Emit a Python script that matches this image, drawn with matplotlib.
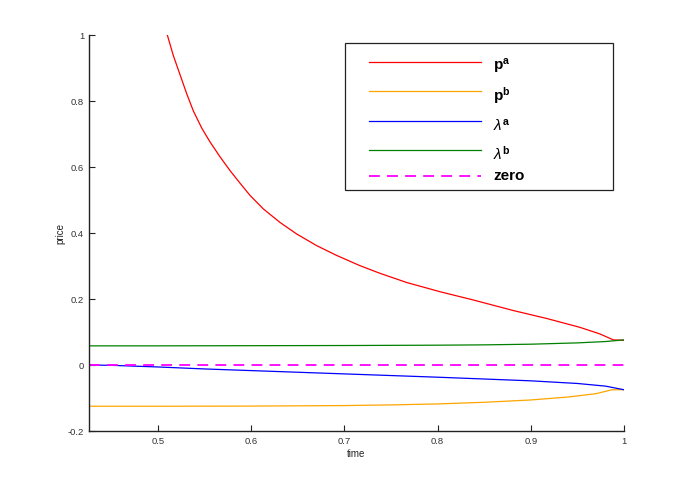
import matplotlib
matplotlib.use("Agg")
import matplotlib.pyplot as plt
from matplotlib.lines import Line2D
from matplotlib.patches import Rectangle

plt.rcParams['font.family'] = ['Liberation Sans', 'DejaVu Sans']
plt.rcParams['mathtext.fontset'] = 'custom'
plt.rcParams['mathtext.rm'] = 'Liberation Sans'
plt.rcParams['mathtext.it'] = 'Liberation Sans:italic'
plt.rcParams['mathtext.bf'] = 'Liberation Sans:bold'

# data
pa_x = [0.510, 0.5164, 0.5236, 0.5308, 0.5379, 0.5469, 0.5558, 0.5665, 0.5773,
        0.588, 0.5987, 0.613, 0.6309, 0.6488, 0.6703, 0.6917, 0.7167, 0.738,
        0.7668, 0.8026, 0.8383, 0.8812, 0.917, 0.9528, 0.9742, 0.9886, 1.0]
pa_y = [1.0, 0.938, 0.880, 0.822, 0.770, 0.718, 0.676, 0.631, 0.589,
        0.551, 0.514, 0.473, 0.432, 0.397, 0.3616, 0.332, 0.301, 0.278,
        0.250, 0.222, 0.197, 0.165, 0.141, 0.114, 0.094, 0.076, 0.075]

pb_x = [0.426, 0.5, 0.6, 0.7, 0.75, 0.8, 0.85, 0.9, 0.94, 0.97, 0.987, 1.0]
pb_y = [-0.125, -0.125, -0.1245, -0.123, -0.121, -0.118, -0.113, -0.106,
        -0.097, -0.087, -0.075, -0.075]

la_x = [0.426, 0.45, 0.5, 0.55, 0.6, 0.7, 0.8, 0.9, 0.95, 0.98, 1.0]
la_y = [0.0, -0.001, -0.006, -0.012, -0.017, -0.027, -0.037, -0.048, -0.056,
        -0.064, -0.075]

lb_x = [0.426, 0.5, 0.6, 0.7, 0.8, 0.85, 0.9, 0.95, 0.98, 1.0]
lb_y = [0.058, 0.058, 0.0585, 0.059, 0.060, 0.061, 0.063, 0.067, 0.071, 0.076]

zero_x = [0.426, 1.0]
zero_y = [0.0, 0.0]

labels = [r'$\mathbf{p^a}$', r'$\mathbf{p^b}$', r'$\lambda^\mathbf{a}$',
          r'$\lambda^\mathbf{b}$', 'zero']
colors = ['#ff0000', '#ffa500', '#0000ff', '#008000', '#ff00ff']
xticks = [0.5, 0.6, 0.7, 0.8, 0.9, 1.0]
xticklabels = ['0.5', '0.6', '0.7', '0.8', '0.9', '1']
yticks = [-0.2, 0, 0.2, 0.4, 0.6, 0.8, 1.0]
yticklabels = ['-0.2', '0', '0.2', '0.4', '0.6', '0.8', '1']

fig = plt.figure(figsize=(6.88, 4.85), dpi=100)
ax = fig.add_axes([0.1294, 0.1093, 0.7776, 0.8165])

series = [(pa_x, pa_y), (pb_x, pb_y), (la_x, la_y), (lb_x, lb_y), (zero_x, zero_y)]
styles = [dict(lw=0.9, ls='-')] * 4 + [dict(lw=1.3, ls=(0, (6, 4)))]
for (xs, ys), c, st, lab in zip(series, colors, styles, labels):
    ax.plot(xs, ys, color=c, label=lab, **st)

ax.set_xlim(0.426, 1.0)
ax.set_ylim(-0.2, 1.0)
ax.set_xticks(xticks)
ax.set_xticklabels(xticklabels)
ax.set_yticks(yticks)
ax.set_yticklabels(yticklabels)
ax.spines['top'].set_visible(False)
ax.spines['right'].set_visible(False)
for s in ['left', 'bottom']:
    ax.spines[s].set_linewidth(1.0)
    ax.spines[s].set_color('#222222')
ax.tick_params(direction='in', length=4, width=0.8, labelsize=6.8,
               colors='#222222', labelcolor='#333333', pad=3.5)
ax.set_xlabel('time', fontsize=7, color='#222222', labelpad=2)
ax.set_ylabel('price', fontsize=7, color='#222222', labelpad=2)

# legend box drawn in axes coordinates, Octave style
frame = Rectangle((0.4785, 0.6086), 0.5009, 0.3712, transform=ax.transAxes,
                  fill=True, facecolor='white', edgecolor='#222222', lw=0.9,
                  zorder=5, clip_on=False)
ax.add_patch(frame)
row_y = [0.9318, 0.8586, 0.7828, 0.7096, 0.6439]
text_dy = [-0.010, -0.010, -0.008, -0.008, 0.002]
for ry, dy, c, st, lab in zip(row_y, text_dy, colors, styles, labels):
    ax.add_line(Line2D([0.5234, 0.7327], [ry, ry], transform=ax.transAxes,
                       color=c, zorder=6, clip_on=False, **st))
    ax.text(0.7551, ry + dy, lab, transform=ax.transAxes, fontsize=11,
            fontweight='bold', va='center', ha='left', zorder=6)

fig.savefig('out.png', dpi=100)
